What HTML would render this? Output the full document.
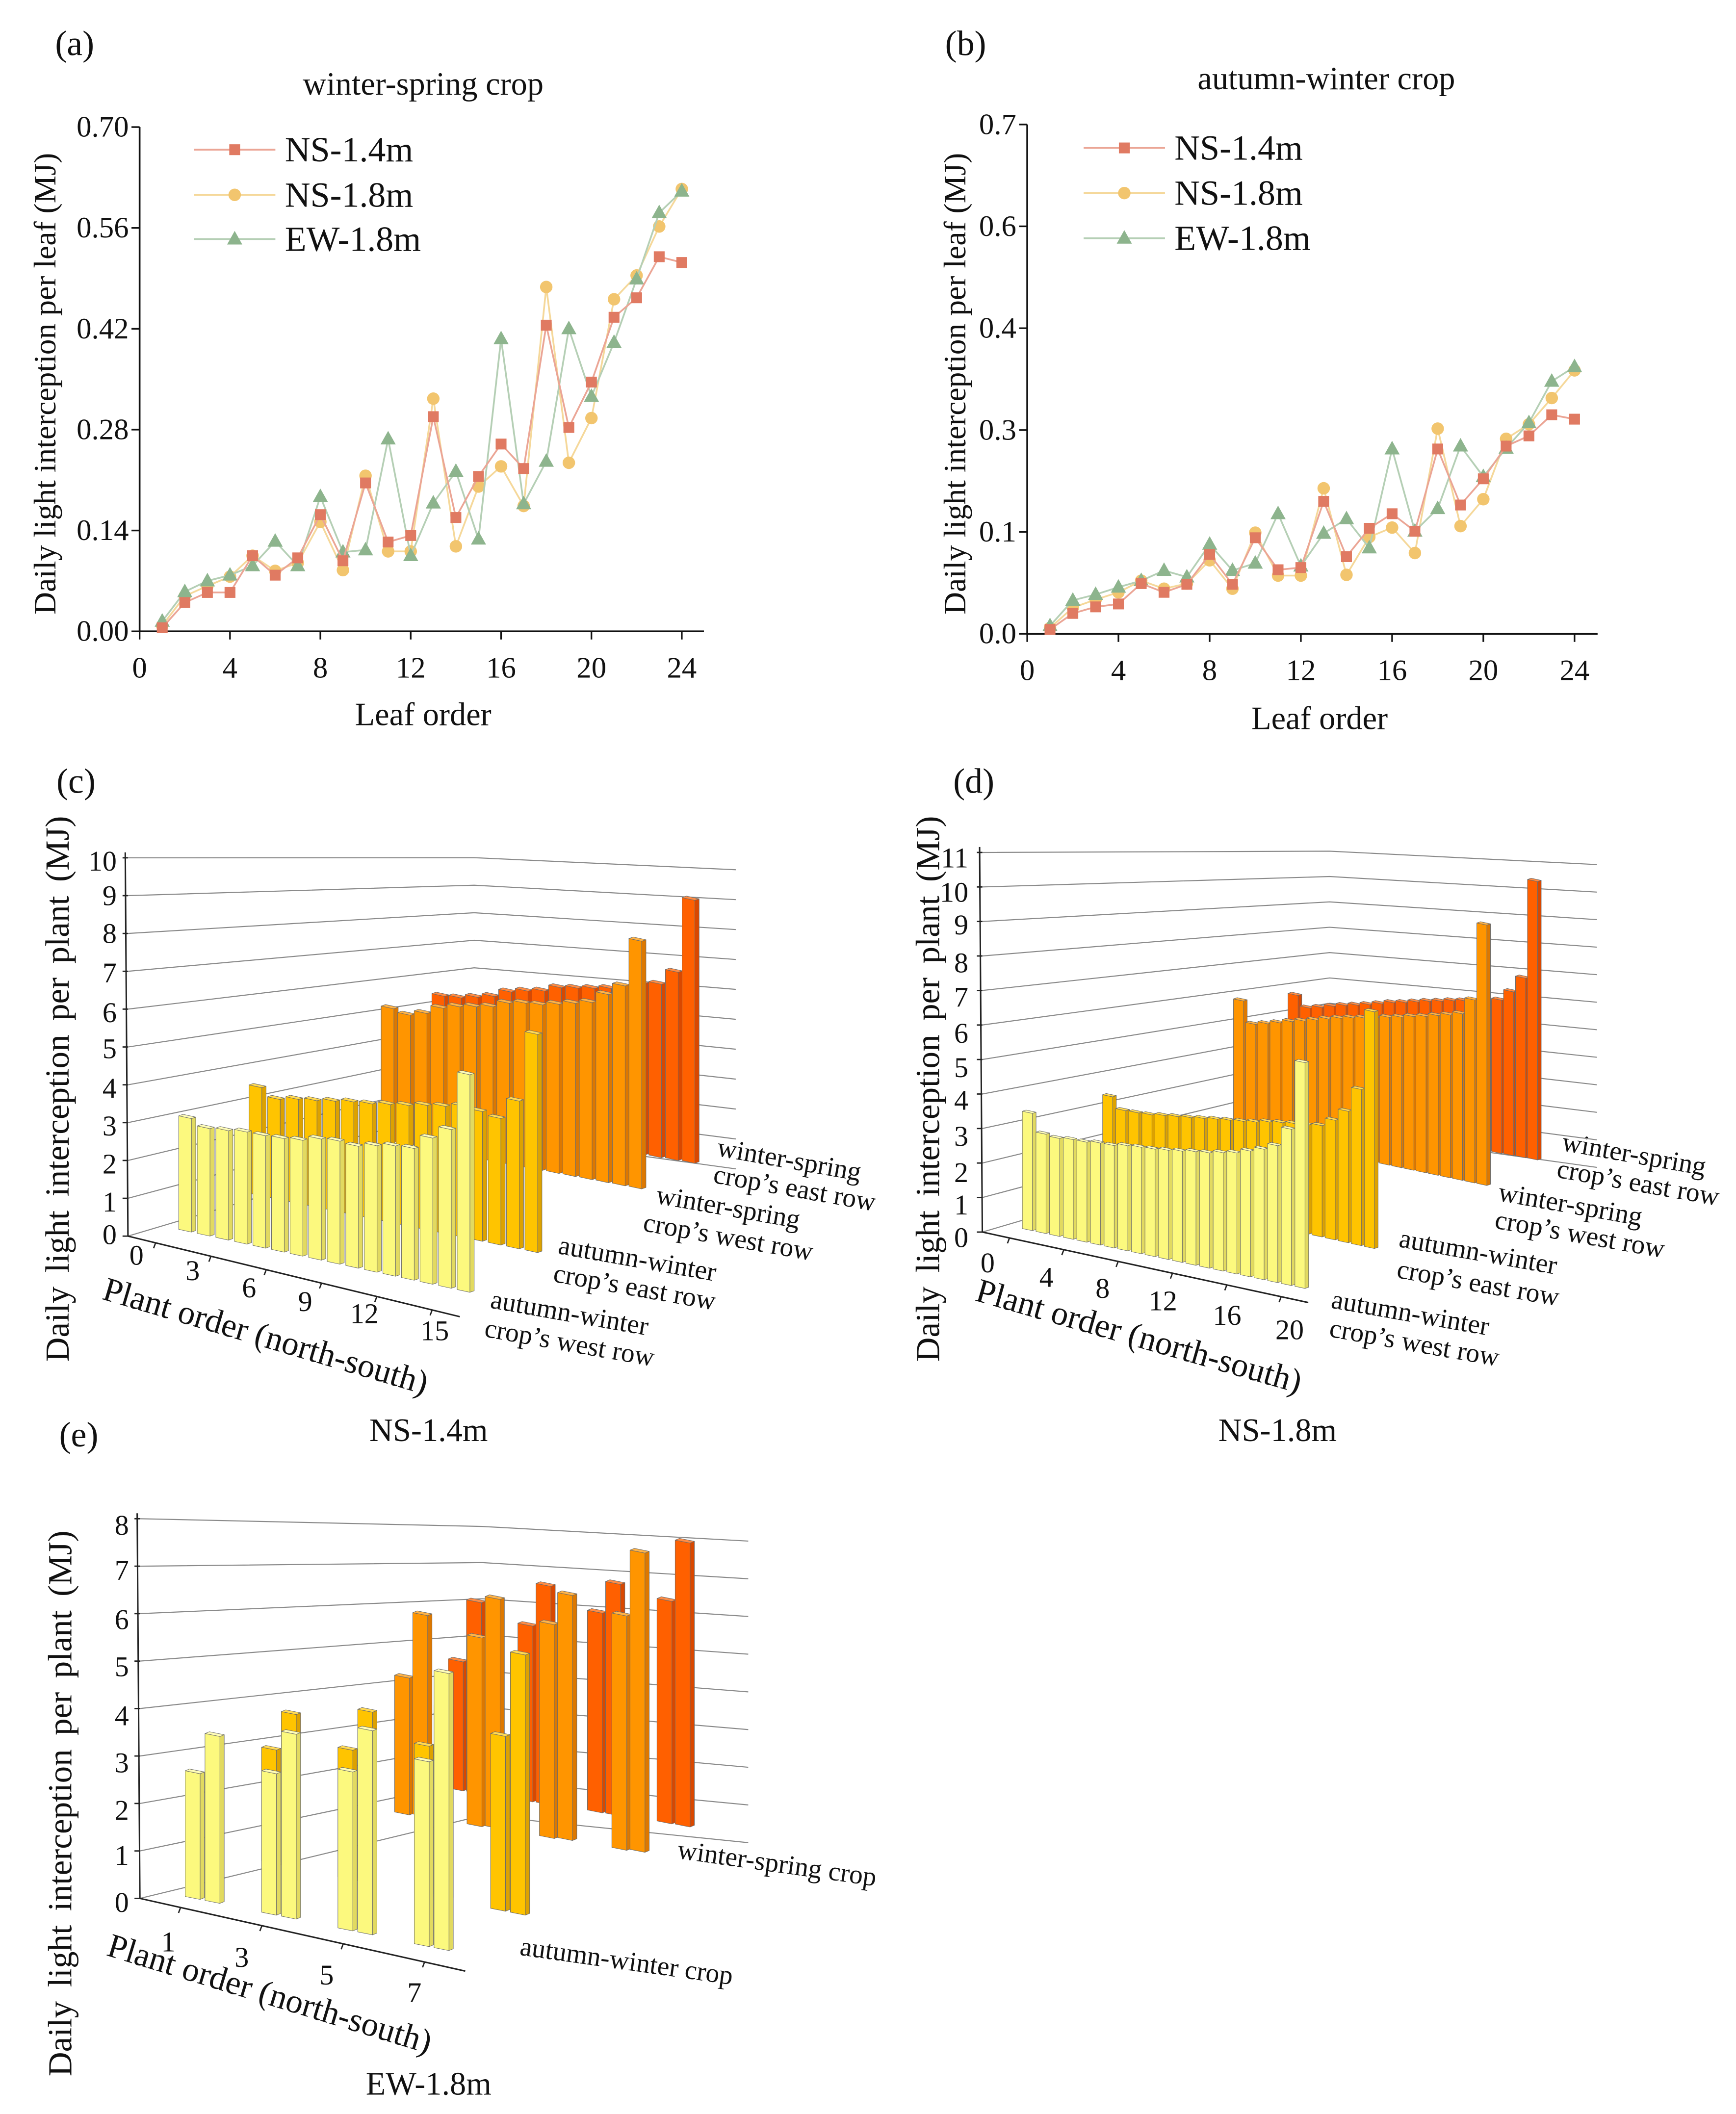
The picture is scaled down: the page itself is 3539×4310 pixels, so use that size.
<!DOCTYPE html>
<html><head><meta charset="utf-8"><title>Daily light interception figure</title>
<style>html,body{margin:0;padding:0;background:#fff}svg{display:block}text{font-family:"Liberation Serif",serif;fill:#111}</style>
</head><body>
<svg id="fig" xmlns="http://www.w3.org/2000/svg" width="3539" height="4310" viewBox="0 0 1280 1559">
<rect x="0" y="0" width="1280" height="1559" fill="#fff"/>
<text x="55" y="32" font-size="26" text-anchor="middle" dominant-baseline="central">(a)</text>
<text x="312" y="62" font-size="24" text-anchor="middle" dominant-baseline="central">winter-spring crop</text>
<text x="712" y="32" font-size="26" text-anchor="middle" dominant-baseline="central">(b)</text>
<text x="978" y="58" font-size="24" text-anchor="middle" dominant-baseline="central">autumn-winter crop</text>
<text x="312" y="527" font-size="24" text-anchor="middle" dominant-baseline="central">Leaf order</text>
<text x="973" y="530" font-size="24" text-anchor="middle" dominant-baseline="central">Leaf order</text>
<text transform="translate(33,283) rotate(-90)" font-size="23" text-anchor="middle" dominant-baseline="central">Daily light interception per leaf (MJ)</text>
<text transform="translate(704,283) rotate(-90)" font-size="23" text-anchor="middle" dominant-baseline="central">Daily light interception per leaf (MJ)</text>

<text x="56" y="576" font-size="26" text-anchor="middle" dominant-baseline="central">(c)</text>
<text x="718" y="576" font-size="26" text-anchor="middle" dominant-baseline="central">(d)</text>
<text x="58" y="1058" font-size="26" text-anchor="middle" dominant-baseline="central">(e)</text>
<text x="316" y="1055" font-size="24" text-anchor="middle" dominant-baseline="central">NS-1.4m</text>
<text x="942" y="1055" font-size="24" text-anchor="middle" dominant-baseline="central">NS-1.8m</text>
<text x="316" y="1537" font-size="24" text-anchor="middle" dominant-baseline="central">EW-1.8m</text>

<text transform="translate(42,803) rotate(-90)" font-size="25" text-anchor="middle" dominant-baseline="central" word-spacing="4">Daily light interception per plant (MJ)</text>
<text transform="translate(684,803) rotate(-90)" font-size="25" text-anchor="middle" dominant-baseline="central" word-spacing="4">Daily light interception per plant (MJ)</text>
<text transform="translate(44,1330) rotate(-90)" font-size="25" text-anchor="middle" dominant-baseline="central" word-spacing="4">Daily light interception per plant (MJ)</text>
<text transform="translate(196,985) rotate(16.5)" font-size="25" text-anchor="middle" dominant-baseline="central">Plant order (north-south)</text>
<text transform="translate(840,985) rotate(16)" font-size="25" text-anchor="middle" dominant-baseline="central">Plant order (north-south)</text>
<text transform="translate(199,1470) rotate(17)" font-size="25" text-anchor="middle" dominant-baseline="central">Plant order (north-south)</text>

<g font-size="20" text-anchor="middle">
<text transform="translate(582,855) rotate(10)" dominant-baseline="central">winter-spring</text>
<text transform="translate(586,876) rotate(10)" dominant-baseline="central">crop’s east row</text>
<text transform="translate(537,890) rotate(10)" dominant-baseline="central">winter-spring</text>
<text transform="translate(537,912) rotate(10)" dominant-baseline="central">crop’s west row</text>
<text transform="translate(470,928) rotate(10)" dominant-baseline="central">autumn-winter</text>
<text transform="translate(468,949) rotate(10)" dominant-baseline="central">crop’s east row</text>
<text transform="translate(420,968) rotate(10)" dominant-baseline="central">autumn-winter</text>
<text transform="translate(420,990) rotate(10)" dominant-baseline="central">crop’s west row</text>

<text transform="translate(1205,851) rotate(10)" dominant-baseline="central">winter-spring</text>
<text transform="translate(1208,872) rotate(10)" dominant-baseline="central">crop’s east row</text>
<text transform="translate(1158,888) rotate(10)" dominant-baseline="central">winter-spring</text>
<text transform="translate(1165,910) rotate(10)" dominant-baseline="central">crop’s west row</text>
<text transform="translate(1090,923) rotate(10)" dominant-baseline="central">autumn-winter</text>
<text transform="translate(1090,946) rotate(10)" dominant-baseline="central">crop’s east row</text>
<text transform="translate(1040,968) rotate(10)" dominant-baseline="central">autumn-winter</text>
<text transform="translate(1043,990) rotate(10)" dominant-baseline="central">crop’s west row</text>

<text transform="translate(573,1374) rotate(8)" dominant-baseline="central">winter-spring crop</text>
<text transform="translate(462,1446) rotate(8)" dominant-baseline="central">autumn-winter crop</text>
</g>

<g id="pa"></g>
<g id="pb"></g>
<g id="pc"></g>
<g id="pd"></g>
<g id="pe"></g>
</svg>
<script>
// ---------- line chart data ----------
const leafOrder = [1,2,3,4,5,6,7,8,9,10,11,12,13,14,15,16,17,18,19,20,21,22,23,24];
const xTicksLeaf = [0,4,8,12,16,20,24];
const aYTicks = [0,0.14,0.28,0.42,0.56,0.70];
const aYTickLabels = ["0.00","0.14","0.28","0.42","0.56","0.70"];
const bYTicks = [0,0.14,0.28,0.42,0.56,0.70];
const bYTickLabels = ["0.0","0.1","0.3","0.4","0.6","0.7"];
const a_ns14 = [0.005,0.04,0.054,0.054,0.105,0.078,0.102,0.162,0.098,0.206,0.124,0.133,0.298,0.158,0.215,0.26,0.226,0.425,0.283,0.346,0.436,0.463,0.52,0.512];
const a_ns18 = [0.008,0.049,0.063,0.076,0.105,0.084,0.095,0.152,0.085,0.216,0.111,0.111,0.323,0.118,0.201,0.229,0.174,0.478,0.234,0.296,0.461,0.494,0.562,0.614];
const a_ew18 = [0.014,0.055,0.07,0.078,0.091,0.125,0.091,0.187,0.11,0.113,0.267,0.105,0.178,0.222,0.128,0.406,0.177,0.236,0.42,0.326,0.401,0.489,0.581,0.611];
const b_ns14 = [0.006,0.028,0.037,0.041,0.069,0.057,0.068,0.109,0.068,0.132,0.088,0.091,0.182,0.106,0.145,0.165,0.141,0.254,0.177,0.213,0.258,0.272,0.301,0.295];
const b_ns18 = [0.008,0.036,0.047,0.057,0.073,0.062,0.069,0.101,0.062,0.139,0.08,0.08,0.2,0.081,0.133,0.146,0.111,0.282,0.148,0.185,0.268,0.288,0.324,0.362];
const b_ew18 = [0.011,0.046,0.054,0.064,0.073,0.087,0.078,0.123,0.087,0.097,0.165,0.093,0.138,0.158,0.118,0.254,0.141,0.172,0.258,0.216,0.255,0.29,0.347,0.367];
const seriesNames = ["NS-1.4m","NS-1.8m","EW-1.8m"];

// ---------- 3D bar data ----------
const cPlants = [0,1,2,3,4,5,6,7,8,9,10,11,12,13,14,15];
const cTickLabels = ["0","3","6","9","12","15"];
const cZTicks = [0,1,2,3,4,5,6,7,8,9,10];
const c_awWest = [2.99,2.83,2.88,2.95,2.96,2.99,3.05,3.19,3.24,3.21,3.33,3.43,3.47,3.85,4.18,5.73];
const c_awEast = [3.07,2.84,2.95,3.02,3.11,3.2,3.25,3.34,3.42,3.53,3.61,3.72,3.68,3.59,4.19,6.19];
const c_wsWest = [4.7,4.58,4.75,5.04,5.2,5.31,5.42,5.65,5.76,5.81,5.94,6.08,6.22,6.61,7.02,8.7];
const c_wsEast = [4.52,4.56,4.68,4.81,5.07,5.2,5.3,5.52,5.6,5.69,5.79,5.92,6.16,6.24,6.77,9.46];

const dPlants = [0,1,2,3,4,5,6,7,8,9,10,11,12,13,14,15,16,17,18,19,20];
const dTickLabels = ["0","4","8","12","16","20"];
const dZTicks = [0,1,2,3,4,5,6,7,8,9,10,11];
const d_awWest = [3.46,2.93,2.89,2.94,2.95,3.01,3.02,3.1,3.14,3.17,3.22,3.28,3.35,3.4,3.49,3.57,3.71,3.85,4.04,4.61,6.66];
const d_awEast = [3.08,2.72,2.74,2.77,2.84,2.9,2.96,3.03,3.1,3.16,3.22,3.29,3.39,3.46,3.52,3.58,3.65,3.92,4.31,5.12,7.76];
const d_wsWest = [5.06,4.27,4.39,4.52,4.66,4.78,4.91,5.05,5.17,5.28,5.37,5.47,5.59,5.69,5.81,5.91,6.04,6.16,6.3,6.92,9.85];
const d_wsEast = [4.83,4.41,4.52,4.65,4.77,4.87,4.98,5.1,5.23,5.32,5.43,5.54,5.63,5.74,5.82,5.91,5.99,6.11,6.53,7.16,11.1];

const ePlants = [1,2,3,4,5,6,7,8];
const eTickLabels = ["1","3","5","7"];
const eZTicks = [0,1,2,3,4,5,6,7,8];
const e_awWest = [2.81,3.73,3.16,4.13,3.55,4.56,4.13,6.19];
const e_awEast = [2.71,3.65,3.08,4.08,3.55,4.55,4.16,6.19];
const e_wsWest = [3.48,5.12,4.8,5.83,5.44,6.23,5.96,7.61];
const e_wsEast = [3.4,5.04,4.63,5.76,5.26,6.1,5.86,7.48];

const NS = "http://www.w3.org/2000/svg";
function mk(tag, attrs, parent){
  const e = document.createElementNS(NS, tag);
  for (const k in attrs) e.setAttribute(k, attrs[k]);
  parent.appendChild(e);
  return e;
}
const colA = {"NS-1.4m":{m:"#E07A62",l:"#EBA595"},"NS-1.8m":{m:"#F2C56E",l:"#F5D89A"},"EW-1.8m":{m:"#8DB48D",l:"#B5CFB5"}};

function marker(g, name, cx, cy){
  let m;
  if (name === "NS-1.4m") m = mk("rect",{x:cx-4,y:cy-4,width:8,height:8,fill:colA[name].m},g);
  else if (name === "NS-1.8m") m = mk("circle",{cx:cx,cy:cy,r:4.6,fill:colA[name].m},g);
  else m = mk("polygon",{points:(cx)+","+(cy-6)+" "+(cx+5.6)+","+(cy+4)+" "+(cx-5.6)+","+(cy+4),fill:colA[name].m},g);
  return m;
}

function lineChart(gid, cfg, yTicks, yLabels, sets, legend){
  const g = document.getElementById(gid);
  const X = v => cfg.x0 + v*(cfg.x24-cfg.x0)/24;
  const Y = v => cfg.y0 - v*(cfg.y0-cfg.y70)/0.70;
  const ax = mk("path",{d:"M"+cfg.x0+","+cfg.y70+" V"+cfg.y0+" H"+cfg.xEnd,stroke:"#111","stroke-width":1.3,fill:"none"},g);
  
  
  yTicks.forEach((t,i)=>{
    const tk = mk("line",{x1:cfg.x0-6,x2:cfg.x0,y1:Y(t),y2:Y(t),stroke:"#111","stroke-width":1.2},g);
    
    
    const tl = mk("text",{x:cfg.x0-8,y:Y(t),"font-size":22,"text-anchor":"end","dominant-baseline":"central"},g);
    tl.textContent = yLabels[i];
    
    
  });
  xTicksLeaf.forEach(t=>{
    const tk = mk("line",{x1:X(t),x2:X(t),y1:cfg.y0,y2:cfg.y0+6,stroke:"#111","stroke-width":1.2},g);
    
    
    const tl = mk("text",{x:X(t),y:cfg.y0+27,"font-size":22,"text-anchor":"middle","dominant-baseline":"central"},g);
    tl.textContent = String(t);
    
    
  });
  [1,2,0].forEach(si=>{
    const name = seriesNames[si], vals = sets[si];
    const sg = mk("g",{},g);
    
    
    const pts = vals.map((v,i)=>X(leafOrder[i])+","+Y(v)).join(" ");
    const pl = mk("polyline",{points:pts,fill:"none",stroke:colA[name].l,"stroke-width":1.3},sg);
    
    
    vals.forEach((v,i)=>{
      const m = marker(sg,name,X(leafOrder[i]),Y(v));
      
      
    });
  });
  seriesNames.forEach((name,i)=>{
    const ly = legend.y[i];
    const lg = mk("g",{},g);
    
    
    mk("line",{x1:legend.x1,x2:legend.x2,y1:ly,y2:ly,stroke:colA[name].l,"stroke-width":1.3},lg);
    marker(lg,name,(legend.x1+legend.x2)/2,ly);
    const t = mk("text",{x:legend.tx,y:ly,"font-size":26,"dominant-baseline":"central"},lg);
    t.textContent = name;
  });
}
lineChart("pa",{x0:102.9,x24:502.7,xEnd:519,y0:465.6,y70:93.7},aYTicks,aYTickLabels,[a_ns14,a_ns18,a_ew18],{x1:143,x2:203,tx:210,y:[110.4,143.7,176.3]});
lineChart("pb",{x0:757.4,x24:1161,xEnd:1178,y0:467.4,y70:91.8},bYTicks,bYTickLabels,[b_ns14,b_ns18,b_ew18],{x1:799,x2:859,tx:866,y:[109.1,142.4,175.7]});

// ---------- 3D bars ----------
const palette = {
  awWest:{f:"#FCF97E",s:"#E2DA60",t:"#FFFDB8"},
  awEast:{f:"#FFC400",s:"#DDA200",t:"#FFDA55"},
  wsWest:{f:"#FF9500",s:"#DD7800",t:"#FFB347"},
  wsEast:{f:"#FF6000",s:"#D94800",t:"#FF8C45"}
};
function pt(a){return a.map(p=>p[0].toFixed(2)+","+p[1].toFixed(2)).join(" ");}
function drawBar(g, bx, by, h, cfg, col){
  const ux = cfg.u[0]*cfg.w, uy = cfg.u[1]*cfg.w, dx = cfg.d[0], dy = cfg.d[1];
  const bg = mk("g",{stroke:"#6b6b6b","stroke-width":0.35,"stroke-linejoin":"round"},g);
  mk("polygon",{points:pt([[bx+ux,by+uy],[bx+ux+dx,by+uy+dy],[bx+ux+dx,by+uy+dy-h],[bx+ux,by+uy-h]]),fill:col.s},bg);
  mk("polygon",{points:pt([[bx,by],[bx+ux,by+uy],[bx+ux,by+uy-h],[bx,by-h]]),fill:col.f},bg);
  mk("polygon",{points:pt([[bx,by-h],[bx+ux,by+uy-h],[bx+ux+dx,by+uy+dy-h],[bx+dx,by+dy-h]]),fill:col.t},bg);
  return bg;
}
function chart3d(gid, geo, rows, zTicks, zLabelPos, tickLabels, tickPos){
  const g = document.getElementById(gid);
  const grid = mk("g",{stroke:"#8a8a8a","stroke-width":0.8,fill:"none"},g);
  
  
  zTicks.forEach(v=>{
    mk("polyline",{points:pt([[geo.F[0],geo.F[1]-v*geo.F[2]],[geo.B[0],geo.B[1]-v*geo.B[2]],[geo.R[0],geo.R[1]-v*geo.R[2]]])},grid);
  });
  const top = zTicks[zTicks.length-1];
  const axis = mk("path",{d:"M"+geo.F[0]+","+geo.F[1]+" L"+(geo.F[0]-2)+","+(geo.F[1]-top*geo.F[2]-4)+" M"+geo.F[0]+","+geo.F[1]+" L"+geo.P[0]+","+geo.P[1],stroke:"#222","stroke-width":1.1,fill:"none"},g);
  
  
  zTicks.forEach((v,i)=>{
    const yy = geo.F[1]-v*geo.F[2];
    const tk = mk("line",{x1:geo.F[0]-4,x2:geo.F[0],y1:yy,y2:yy,stroke:"#222","stroke-width":1},g);
    
    
    const tl = mk("text",{x:zLabelPos.x,y:zLabelPos.y[i],"font-size":21,"text-anchor":"end","dominant-baseline":"central"},g);
    tl.textContent = String(v);
    
    
  });
  tickLabels.forEach((lab,i)=>{
    const tl = mk("text",{x:tickPos[i][0],y:tickPos[i][1],"font-size":21,"text-anchor":"middle","dominant-baseline":"central"},g);
    tl.textContent = lab;
    
    
    const t = (i+0.5)/tickLabels.length;
    const ax0 = geo.F[0]+(geo.P[0]-geo.F[0])*t, ay0 = geo.F[1]+(geo.P[1]-geo.F[1])*t;
    const tk = mk("line",{x1:ax0,y1:ay0,x2:ax0-1.5,y2:ay0+4,stroke:"#222","stroke-width":1},g);
    
    
  });
  rows.forEach(r=>{
    const rg = mk("g",{},g);
    
    
    r.vals.forEach((v,i)=>{
      const p = r.pos(i);
      const b = drawBar(rg, p[0], p[1], v*r.scale, geo, palette[r.name]);
      
      
    });
  });
}
function lin(first, step){ return i => [first[0]+i*step[0], first[1]+i*step[1]]; }
function paired(first, gstep, pstep){ return i => { const gi = Math.floor(i/2), w = i%2; return [first[0]+gi*gstep[0]+w*pstep[0], first[1]+gi*gstep[1]+w*pstep[1]]; }; }
function unit(v){ const L = Math.hypot(v[0],v[1]); return [v[0]/L, v[1]/L]; }

chart3d("pc",
  {F:[94.3,911.6,27.9],B:[349.6,835.5,20.3],R:[542.5,862,22.06],P:[339,971],u:unit([13.7,2.96]),w:9.6,d:[3.2,-1.1]},
  [
    {name:"wsEast",vals:c_wsEast,scale:20.5,pos:lin([318.4,825.4],[12.3,2.03])},
    {name:"wsWest",vals:c_wsWest,scale:21,pos:lin([281,840.6],[12.18,2.28])},
    {name:"awEast",vals:c_awEast,scale:26,pos:lin([183.6,879.9],[13.56,2.79])},
    {name:"awWest",vals:c_awWest,scale:28,pos:lin([131.7,906.6],[13.69,2.96])}
  ],
  cZTicks,{x:86,y:[910.4,886.3,858.4,830.4,802.5,773.4,746.7,717.5,688.4,660.5,635]},
  cTickLabels,[[100.6,925.6],[142,937],[183.6,949.7],[225,959.8],[268.6,968.7],[320.5,981.4]]
);
chart3d("pd",
  {F:[724.3,908.6,25.45],B:[980.4,833.4,18.7],R:[1177.5,860.9,20.3],P:[964.7,960.6],u:unit([10.05,2.13]),w:7.6,d:[2.7,-0.9]},
  [
    {name:"wsEast",vals:d_wsEast,scale:18.5,pos:lin([949.7,821.9],[8.83,1.6])},
    {name:"wsWest",vals:d_wsWest,scale:19.5,pos:lin([909.5,835.3],[8.97,1.87])},
    {name:"awEast",vals:d_awEast,scale:22.5,pos:lin([813,876.6],[9.65,2.13])},
    {name:"awWest",vals:d_awWest,scale:25,pos:lin([753.8,906],[10.05,2.13])}
  ],
  dZTicks,{x:714,y:[912.6,888.6,864.6,838,811.3,787.3,762,735.3,710,682,658,632.7]},
  dTickLabels,[[728.2,931.3],[771.6,941.9],[813,950],[857.5,959.3],[904.8,970],[950.9,980.6]]
);
chart3d("pe",
  {F:[103.1,1400,35],B:[355.5,1338.9,26.65],R:[551.7,1358.9,27.8],P:[343,1453.6],u:unit([14.6,2.9]),w:11.2,d:[3.2,-1.3]},
  [
    {name:"wsEast",vals:e_wsEast,scale:28,pos:paired([330.5,1318.6],[51.3,8.1],[13.4,2.3])},
    {name:"wsWest",vals:e_wsWest,scale:29,pos:paired([290.9,1336.3],[53.4,8.7],[13.4,1.45])},
    {name:"awEast",vals:e_awEast,scale:31,pos:paired([192.8,1372.5],[56.3,11.6],[14.6,2.9])},
    {name:"awWest",vals:e_awWest,scale:33,pos:paired([136.5,1398.6],[56.3,11.6],[14.6,2.9])}
  ],
  eZTicks,{x:95,y:[1403,1368.2,1334.9,1300.1,1265.3,1229.1,1194.4,1158.1,1124.8]},
  eTickLabels,[[124,1432],[178.2,1443.5],[240.8,1456.5],[305.5,1469.5]]
);
</script>
</body></html>
